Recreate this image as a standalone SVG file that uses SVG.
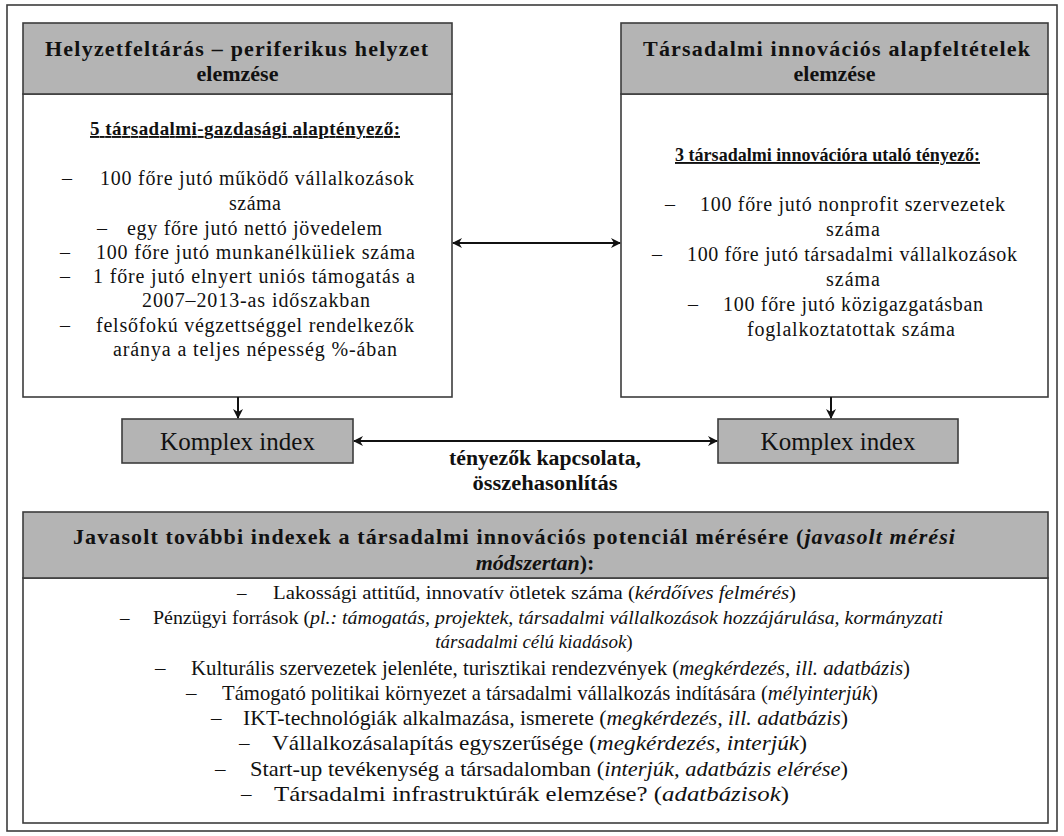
<svg xmlns="http://www.w3.org/2000/svg" width="1064" height="836" viewBox="0 0 1064 836" font-family="'Liberation Serif', 'Times New Roman', serif">
<defs>
<style>
text{font-family:"Liberation Serif","Times New Roman",serif;fill:#111;}
.hd{font-size:22px;font-weight:bold;}
.tt{font-size:19px;font-weight:bold;text-decoration:underline;}
.bd{font-size:20px;}
.bb{font-size:19px;}
.bc{font-size:21px;}
.cx{font-size:25px;}
.lb{font-size:20px;font-weight:bold;}
.it{font-style:italic;}
.box{fill:#fff;stroke:#3c3c3c;stroke-width:1.6;}
.hbox{fill:#b4b4b4;stroke:#3c3c3c;stroke-width:1.6;}
.con{stroke:#111;stroke-width:2;fill:none;}
</style>
<marker id="ah" viewBox="0 0 10 10" refX="9" refY="5" markerWidth="5" markerHeight="5" orient="auto-start-reverse" markerUnits="strokeWidth">
<path d="M0,0 L10,5 L0,10 L3,5 z" fill="#111"/>
</marker>
</defs>
<rect x="7" y="5" width="1050" height="826" fill="#fff" stroke="#3c3c3c" stroke-width="1.6"/>

<g id="left-box">
<rect class="box" x="23" y="94" width="429" height="303"/>
<rect class="hbox" x="23" y="23" width="429" height="71"/>
<text class="hd" x="45" y="56" textLength="383" lengthAdjust="spacing">Helyzetfeltárás – periferikus helyzet</text>
<text class="hd" x="237.5" y="81" text-anchor="middle">elemzése</text>
<text class="tt" x="90" y="135" textLength="310" lengthAdjust="spacing">5 társadalmi-gazdasági alaptényező:</text>
<text class="bd" x="62" y="185">–</text>
<text class="bd" x="100" y="185" textLength="314" lengthAdjust="spacing">100 főre jutó működő vállalkozások</text>
<text class="bd" x="229" y="210" textLength="52" lengthAdjust="spacing">száma</text>
<text class="bd" x="97" y="235">–</text>
<text class="bd" x="127" y="235" textLength="255" lengthAdjust="spacing">egy főre jutó nettó jövedelem</text>
<text class="bd" x="60" y="259">–</text>
<text class="bd" x="96" y="259" textLength="319" lengthAdjust="spacing">100 főre jutó munkanélküliek száma</text>
<text class="bd" x="60" y="283">–</text>
<text class="bd" x="93" y="283" textLength="322" lengthAdjust="spacing">1 főre jutó elnyert uniós támogatás a</text>
<text class="bd" x="142" y="307" textLength="228" lengthAdjust="spacing">2007–2013-as időszakban</text>
<text class="bd" x="60" y="332">–</text>
<text class="bd" x="96" y="332" textLength="318" lengthAdjust="spacing">felsőfokú végzettséggel rendelkezők</text>
<text class="bd" x="113" y="356" textLength="284" lengthAdjust="spacing">aránya a teljes népesség %-ában</text>
</g>

<g id="right-box">
<rect class="box" x="621" y="94" width="427" height="303"/>
<rect class="hbox" x="621" y="23" width="427" height="71"/>
<text class="hd" x="643" y="56" textLength="387" lengthAdjust="spacing">Társadalmi innovációs alapfeltételek</text>
<text class="hd" x="834.5" y="81" text-anchor="middle">elemzése</text>
<text class="tt" x="675" y="161" textLength="305" lengthAdjust="spacingAndGlyphs">3 társadalmi innovációra utaló tényező:</text>
<text class="bd" x="665" y="211">–</text>
<text class="bd" x="700" y="211" textLength="305" lengthAdjust="spacing">100 főre jutó nonprofit szervezetek</text>
<text class="bd" x="826" y="236" textLength="54" lengthAdjust="spacing">száma</text>
<text class="bd" x="652" y="261">–</text>
<text class="bd" x="687" y="261" textLength="330" lengthAdjust="spacing">100 főre jutó társadalmi vállalkozások</text>
<text class="bd" x="826" y="286" textLength="54" lengthAdjust="spacing">száma</text>
<text class="bd" x="688" y="311">–</text>
<text class="bd" x="723" y="311" textLength="260" lengthAdjust="spacing">100 főre jutó közigazgatásban</text>
<text class="bd" x="747" y="336" textLength="208" lengthAdjust="spacing">foglalkoztatottak száma</text>
</g>

<g id="komplex-left">
<rect class="hbox" x="122" y="419" width="231" height="44"/>
<text class="cx" x="237.5" y="450" text-anchor="middle">Komplex index</text>
</g>

<g id="komplex-right">
<rect class="hbox" x="718" y="419" width="240" height="44"/>
<text class="cx" x="838" y="450" text-anchor="middle">Komplex index</text>
</g>

<g id="bottom-box">
<rect class="box" x="23" y="578" width="1025" height="245"/>
<rect class="hbox" x="23" y="512" width="1025" height="66"/>
<text class="hd" x="73" y="544" textLength="882" lengthAdjust="spacing">Javasolt további indexek a társadalmi innovációs potenciál mérésére (<tspan class="it">javasolt mérési</tspan></text>
<text class="hd" x="535" y="570" text-anchor="middle"><tspan class="it">módszertan</tspan>):</text>

<text class="bb" x="237" y="599">–</text>
<text class="bb" x="273" y="599" textLength="523" lengthAdjust="spacingAndGlyphs">Lakossági attitűd, innovatív ötletek száma (<tspan class="it">kérdőíves felmérés</tspan>)</text>
<text class="bb" x="120" y="624">–</text>
<text class="bb" x="153" y="624" textLength="790" lengthAdjust="spacingAndGlyphs">Pénzügyi források (<tspan class="it">pl.: támogatás, projektek, társadalmi vállalkozások hozzájárulása, kormányzati</tspan></text>
<text class="bb" x="534" y="648" text-anchor="middle"><tspan class="it">társadalmi célú kiadások</tspan>)</text>
<text class="bc" x="155" y="675">–</text>
<text class="bc" x="191" y="675" textLength="719" lengthAdjust="spacingAndGlyphs">Kulturális szervezetek jelenléte, turisztikai rendezvények (<tspan class="it">megkérdezés, ill. adatbázis</tspan>)</text>
<text class="bc" x="186" y="700">–</text>
<text class="bc" x="222" y="700" textLength="656" lengthAdjust="spacingAndGlyphs">Támogató politikai környezet a társadalmi vállalkozás indítására (<tspan class="it">mélyinterjúk</tspan>)</text>
<text class="bc" x="211" y="725">–</text>
<text class="bc" x="243" y="725" textLength="605" lengthAdjust="spacingAndGlyphs">IKT-technológiák alkalmazása, ismerete (<tspan class="it">megkérdezés, ill. adatbázis</tspan>)</text>
<text class="bc" x="239" y="750">–</text>
<text class="bc" x="272" y="750" textLength="535" lengthAdjust="spacingAndGlyphs">Vállalkozásalapítás egyszerűsége (<tspan class="it">megkérdezés, interjúk</tspan>)</text>
<text class="bc" x="215" y="776">–</text>
<text class="bc" x="250" y="776" textLength="598" lengthAdjust="spacingAndGlyphs">Start-up tevékenység a társadalomban (<tspan class="it">interjúk, adatbázis elérése</tspan>)</text>
<text class="bc" x="241" y="801">–</text>
<text class="bc" x="274" y="801" textLength="515" lengthAdjust="spacingAndGlyphs">Társadalmi infrastruktúrák elemzése? (<tspan class="it">adatbázisok</tspan>)</text>
</g>

<g id="connectors">
<line class="con" x1="453" y1="243" x2="620" y2="243" marker-start="url(#ah)" marker-end="url(#ah)"/>
<line class="con" x1="238" y1="397" x2="238" y2="418" marker-end="url(#ah)"/>
<line class="con" x1="831" y1="397" x2="831" y2="418" marker-end="url(#ah)"/>
<line class="con" x1="354" y1="441" x2="717" y2="441" marker-start="url(#ah)" marker-end="url(#ah)"/>
<text class="lb" x="545" y="465" text-anchor="middle" textLength="192" lengthAdjust="spacingAndGlyphs">tényezők kapcsolata,</text>
<text class="lb" x="545" y="490" text-anchor="middle" textLength="145" lengthAdjust="spacingAndGlyphs">összehasonlítás</text>
</g>
</svg>
